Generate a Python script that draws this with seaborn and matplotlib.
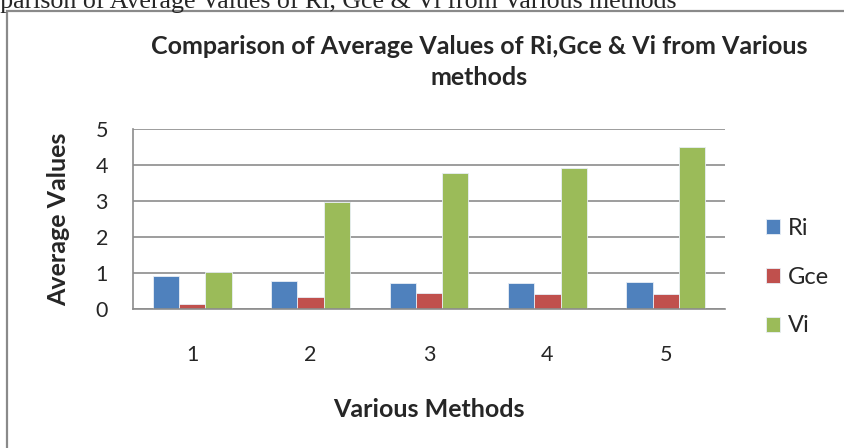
import matplotlib
matplotlib.use("Agg")
import matplotlib.pyplot as plt
import seaborn as sns
import pandas as pd
from matplotlib.patches import Rectangle

methods = ["1", "2", "3", "4", "5"]
ri_values = [0.93, 0.77, 0.71, 0.73, 0.75]
gce_values = [0.13, 0.33, 0.44, 0.43, 0.41]
vi_values = [1.02, 2.98, 3.79, 3.93, 4.50]
series_names = ["Ri", "Gce", "Vi"]
colors = ["#4F81BD", "#C0504D", "#9BBB59"]

df = pd.DataFrame({
    "Method": methods * 3,
    "Series": [s for s in series_names for _ in methods],
    "Value": ri_values + gce_values + vi_values,
})

sns.set_style("white")
plt.rcParams['font.family'] = ['Lato', 'DejaVu Sans']

W, H = 844, 448
fig = plt.figure(figsize=(W / 100, H / 100), dpi=100)

# outer chart border (runs off the right and bottom of the picture)
fig.patches.append(Rectangle((7 / W, -0.1), 1.2, 1 - 11 / H + 0.1, transform=fig.transFigure,
                             fill=False, edgecolor="#8a8a8a", linewidth=1.6))

# cut-off caption above the chart
fig.text(-50 / W, 1 - 8 / H, "Comparison of Average Values of Ri, Gce & Vi from Various methods",
         family="Liberation Serif", fontsize=18.6, ha="left", va="baseline")

ax = fig.add_axes([133 / W, 1 - 309 / H, 592 / W, 180 / H])
sns.barplot(data=df, x="Method", y="Value", hue="Series", hue_order=series_names,
            palette=colors, width=0.667, gap=0, saturation=1, ax=ax,
            edgecolor="#e8eef6", linewidth=0.6)

ax.set_ylim(0, 5)
ax.set_yticks(range(6))
ax.yaxis.grid(True, color="#8c8c8c", linewidth=1.2)
ax.set_axisbelow(True)
for side in ["top", "right"]:
    ax.spines[side].set_visible(False)
for side in ["left", "bottom"]:
    ax.spines[side].set_color("#8c8c8c")
    ax.spines[side].set_linewidth(1.2)
ax.tick_params(axis="y", length=6, color="#8c8c8c", width=1.2, labelsize=15.5, pad=12)
ax.tick_params(axis="x", length=0, labelsize=15.5, pad=26)

ax.set_xlabel("Various Methods", fontsize=18, fontweight="bold", labelpad=24)
ax.set_ylabel("Average Values", fontsize=18, fontweight="bold", labelpad=18)

fig.text(479 / W, 1 - 62 / H, "Comparison of Average Values of Ri,Gce & Vi from Various\nmethods",
         ha="center", va="center", fontsize=18, fontweight="bold", linespacing=1.42)

handles, labels = ax.get_legend_handles_labels()
ax.legend(handles, labels, loc="center left", bbox_to_anchor=(745 / W, 1 - 277 / H),
          bbox_transform=fig.transFigure, frameon=False, fontsize=17,
          handlelength=0.6, handleheight=0.6, handletextpad=0.3, labelspacing=1.18)

fig.savefig("out.png", dpi=100)
